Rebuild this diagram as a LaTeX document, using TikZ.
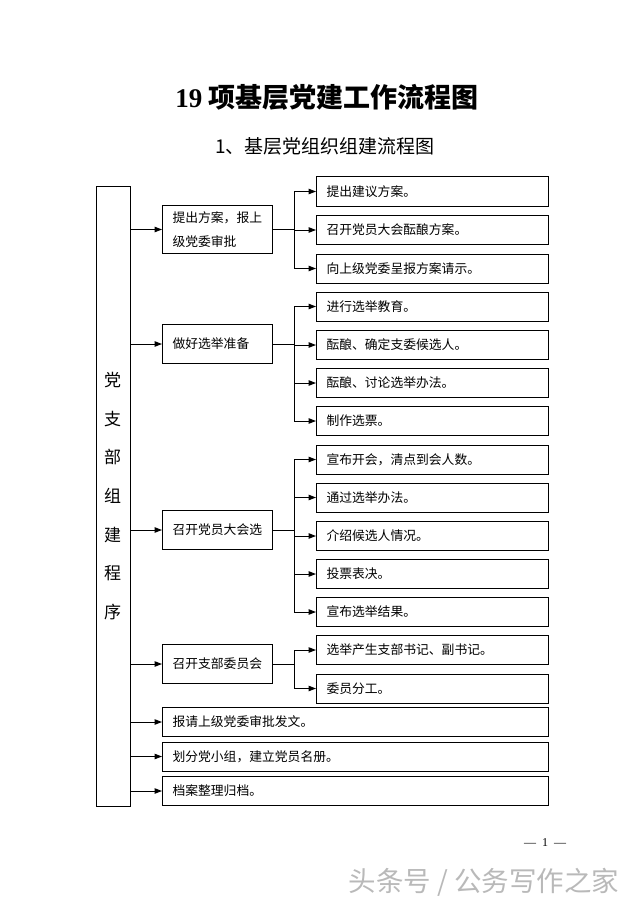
\documentclass[tikz,border=0pt]{standalone}
\usepackage{fontspec}
\setmainfont{Liberation Serif}
\newfontfamily\cjk{Noto Sans CJK SC}
\usetikzlibrary{arrows.meta}
\tikzset{
  box/.style={draw, line width=1pt, inner ysep=0pt, inner xsep=10pt, align=left, anchor=west,
              font=\cjk\fontsize{12.8}{24}\selectfont},
  rbox/.style={box, text width=212pt, minimum height=29pt},
  mbox/.style={box, text width=90pt, minimum height=38.5pt},
  wbox/.style={box, text width=366pt, minimum height=29pt},
  conn/.style={line width=1pt},
  arr/.style={conn, -{Triangle[length=7.5pt,width=5.5pt]}}
}
\begin{document}
\begin{tikzpicture}[x=1pt,y=-1pt]
\useasboundingbox (0,0) rectangle (640,904);
% titles
\node[font=\cjk\bfseries\fontsize{27}{30}\selectfont] (title) at (327,97) {{\fontspec{Liberation Serif}\bfseries 19} 项基层党建工作流程图};
\node[font=\cjk\fontsize{19}{22}\selectfont] (sub) at (325,146) {1、基层党组织组建流程图};
% left column
\node[draw, line width=1pt, minimum width=34pt, minimum height=620pt, inner sep=0pt, anchor=north west] (L) at (95.5,186) {};
\node[font=\cjk\fontsize{17}{38.7}\selectfont, align=center, inner sep=0pt] (Ltext) at (112.5,496) {党\\支\\部\\组\\建\\程\\序};
\coordinate (bx) at (294,0);
% middle boxes
\node[mbox, minimum height=48pt] (b1) at (162,229.5) {提出方案，报上\\级党委审批};
\node[mbox] (b2) at (162,344) {做好选举准备};
\node[mbox] (b3) at (162,530) {召开党员大会选};
\node[mbox] (b4) at (162,664) {召开支部委员会};
% right boxes
\node[rbox] (r1) at (316,191.5) {提出建议方案。};
\node[rbox] (r2) at (316,230) {召开党员大会酝酿方案。};
\node[rbox] (r3) at (316,268.5) {向上级党委呈报方案请示。};
\node[rbox] (r4) at (316,306.5) {进行选举教育。};
\node[rbox] (r5) at (316,345) {酝酿、确定支委候选人。};
\node[rbox] (r6) at (316,383) {酝酿、讨论选举办法。};
\node[rbox] (r7) at (316,421) {制作选票。};
\node[rbox] (r8) at (316,459.5) {宣布开会，清点到会人数。};
\node[rbox] (r9) at (316,497.5) {通过选举办法。};
\node[rbox] (r10) at (316,536) {介绍候选人情况。};
\node[rbox] (r11) at (316,574) {投票表决。};
\node[rbox] (r12) at (316,612) {宣布选举结果。};
\node[rbox] (r13) at (316,650) {选举产生支部书记、副书记。};
\node[rbox] (r14) at (316,688.5) {委员分工。};
% wide boxes
\node[wbox] (w1) at (162,722) {报请上级党委审批发文。};
\node[wbox] (w2) at (162,756.5) {划分党小组，建立党员名册。};
\node[wbox] (w3) at (162,791) {档案整理归档。};
% left arrows
\foreach \n in {b1,b2,b3,b4,w1,w2,w3}
  \draw[arr] (\n.west -| L.east) -- (\n.west);
% branches
\draw[conn] (b1.east) -- (b1.east -| bx);
\draw[conn] (r1.west -| bx) -- (r3.west -| bx);
\draw[conn] (b2.east) -- (b2.east -| bx);
\draw[conn] (r4.west -| bx) -- (r7.west -| bx);
\draw[conn] (b3.east) -- (b3.east -| bx);
\draw[conn] (r8.west -| bx) -- (r12.west -| bx);
\draw[conn] (b4.east) -- (b4.east -| bx);
\draw[conn] (r13.west -| bx) -- (r14.west -| bx);
\foreach \n in {r1,r2,r3,r4,r5,r6,r7,r8,r9,r10,r11,r12,r13,r14}
  \draw[arr] (\n.west -| bx) -- (\n.west);
% footer
\node[font=\fontsize{12}{14}\selectfont] (page) at (545,843) {—\hspace{6pt}1\hspace{6pt}—};
\node[font=\cjk\fontsize{27.5}{30}\selectfont, text=gray!55] (wm) at (484,882) {头条号 / 公务写作之家};
\end{tikzpicture}
\end{document}
